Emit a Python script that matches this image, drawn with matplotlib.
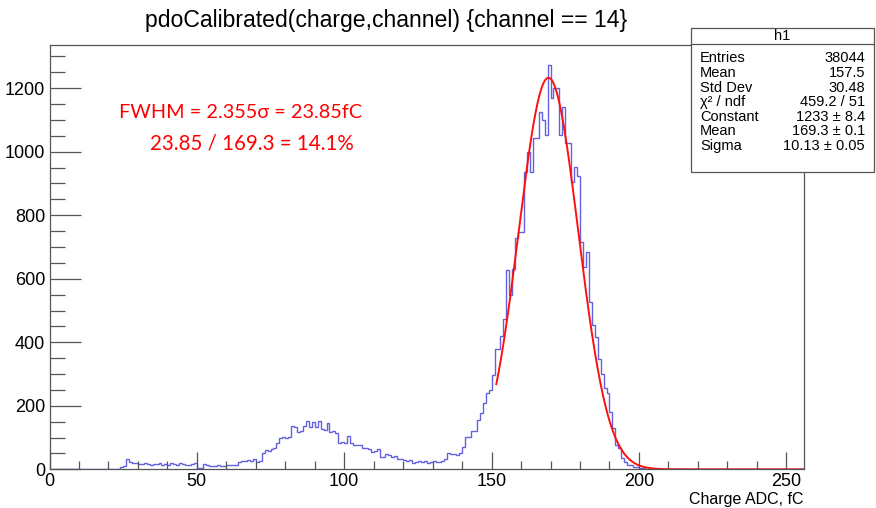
"""
pdoCalibrated charge spectrum, channel 14, with gaussian fit
"""

import matplotlib
matplotlib.use("Agg")
import matplotlib.pyplot as plt
import numpy as np
from matplotlib.ticker import MultipleLocator

plt.rcParams['font.family'] = ['Liberation Sans', 'DejaVu Sans']

# histogram: 256 bins of 1 fC, non-empty bins start at 24
n_bins = 256
first_bin = 24
counts = [
    6, 10, 31, 23, 21, 19, 18, 17, 19, 16,          # 24-33
    15, 18, 16, 20, 15, 17, 14, 19, 16, 14,         # 34-43
    21, 17, 15, 14, 16, 20, 5, 3, 16, 12,           # 44-53
    10, 11, 9, 12, 10, 11, 14, 13, 15, 14,          # 54-63
    22, 27, 25, 28, 27, 31, 24, 26, 50, 61,         # 64-73
    58, 63, 66, 82, 98, 101, 100, 103, 136, 134,    # 74-83
    119, 121, 136, 153, 134, 150, 134, 153, 126, 124,  # 84-93
    147, 119, 121, 113, 84, 86, 82, 105, 82, 77,    # 94-103
    78, 75, 66, 68, 64, 56, 57, 63, 38, 40,         # 104-113
    48, 46, 40, 41, 31, 33, 30, 27, 28, 21,         # 114-123
    22, 26, 23, 25, 21, 24, 26, 22, 24, 25,         # 124-133
    31, 50, 48, 48, 45, 50, 71, 103, 103, 122,      # 134-143
    122, 155, 176, 208, 239, 250, 297, 378, 378, 420,  # 144-153
    472, 628, 549, 630, 728, 748, 748, 937, 1000, 937,  # 154-163
    1042, 1042, 1126, 1100, 1053, 1273, 1168, 1200, 1200, 1053,  # 164-173
    1142, 1027, 1027, 906, 953, 922, 717, 638, 685, 528,  # 174-183
    454, 418, 346, 300, 255, 239, 181, 129, 75, 68,  # 184-193
    35, 24, 15, 12, 8, 7, 5, 3, 2, 2,               # 194-203
    1,                                              # 204
]

# fit result (gaus)
fit_const = 1233.0
fit_mean = 169.3
fit_sigma = 10.13
fit_range = (151.6, 256.0)

title = "pdoCalibrated(charge,channel) {channel == 14}"
xlabel = "Charge ADC, fC"
stats_names = ["Entries", "Mean", "Std Dev", "χ² / ndf", "Constant", "Mean", "Sigma"]
stats_values = ["38044", "157.5", "30.48", "459.2 / 51", "1233 ± 8.4", "169.3 ± 0.1", "10.13 ± 0.05"]
note_lines = ["FWHM = 2.355σ = 23.85fC", "23.85 / 169.3 = 14.1%"]

values = np.zeros(n_bins)
values[first_bin:first_bin + len(counts)] = counts
edges = np.arange(n_bins + 1)

W, H = 876, 508
fig = plt.figure(figsize=(W / 100, H / 100), dpi=100)
ax = fig.add_axes([49.5 / W, 1 - 469.3 / H, (804 - 49.5) / W, (469.3 - 45) / H])

ax.stairs(values, edges, color='#6262e0', lw=1.0)

xf = np.linspace(fit_range[0], fit_range[1], 600)
yf = fit_const * np.exp(-0.5 * ((xf - fit_mean) / fit_sigma) ** 2)
ax.plot(xf, yf, color='#ff1010', lw=1.4)

ax.set_xlim(0, 256)
ax.set_ylim(0, 1336)

ax.xaxis.set_major_locator(MultipleLocator(50))
ax.xaxis.set_minor_locator(MultipleLocator(10))
ax.yaxis.set_major_locator(MultipleLocator(200))
ax.yaxis.set_minor_locator(MultipleLocator(50))
ax.tick_params(axis='x', which='major', direction='in', length=12, width=0.9, color='#555555',
               labelsize=13, pad=3)
ax.tick_params(axis='x', which='minor', direction='in', length=6, width=0.9, color='#555555')
ax.tick_params(axis='y', which='major', direction='in', length=22, width=0.9, color='#555555',
               labelsize=13, pad=3)
ax.tick_params(axis='y', which='minor', direction='in', length=11, width=0.9, color='#555555')
for s in ax.spines.values():
    s.set_color('#555555')
    s.set_linewidth(0.9)

ax.set_xlabel(xlabel, fontsize=11.5, loc='right', labelpad=1)

fig.text(386 / W, 1 - 21 / H, title, ha='center', va='center', fontsize=16.6)

# red annotation
ax.text(241 / W, 1 - 113 / H, note_lines[0], transform=fig.transFigure, ha='center', va='center',
        color='#ff0000', fontsize=14.3, family=['Lato', 'DejaVu Sans'])
ax.text(252 / W, 1 - 143 / H, note_lines[1], transform=fig.transFigure, ha='center', va='center',
        color='#ff0000', fontsize=14.8, family=['Lato', 'DejaVu Sans'])

# stats box
bx0, bx1, by0, by1 = 691 / W, 874 / W, 1 - 171.7 / H, 1 - 28 / H
fig.patches.append(plt.Rectangle((bx0, by0), bx1 - bx0, by1 - by0, transform=fig.transFigure,
                                 facecolor='white', edgecolor='#555555', lw=0.9, zorder=5))
sep = 1 - 43.5 / H
fig.add_artist(plt.Line2D([bx0, bx1], [sep, sep], transform=fig.transFigure, color='#555555', lw=0.9, zorder=6))
fig.text((bx0 + bx1) / 2, 1 - 36 / H, "h1", ha='center', va='center', fontsize=10.5, zorder=7)
for i, (nm, v) in enumerate(zip(stats_names, stats_values)):
    y = 1 - (58.3 + i * 14.6) / H
    fig.text(700 / W, y, nm, ha='left', va='center', fontsize=10.5, zorder=7)
    fig.text(865 / W, y, v, ha='right', va='center', fontsize=10.5, zorder=7)

fig.savefig("out.png", dpi=100)
